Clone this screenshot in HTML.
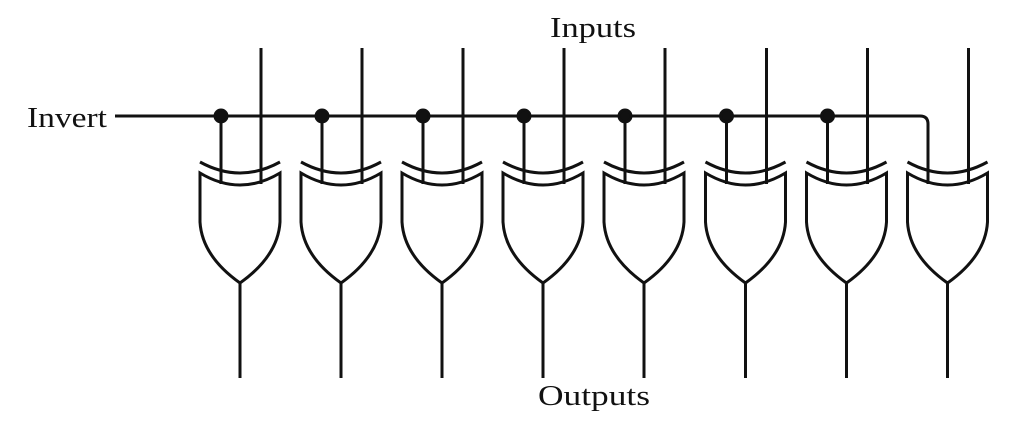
<!DOCTYPE html>
<html><head><meta charset="utf-8"><style>
html,body{margin:0;padding:0;background:#fff;}
svg{display:block;}
text{font-family:"Liberation Serif",serif;font-size:28px;fill:#111;}
</style></head><body>
<svg width="1024" height="435" viewBox="0 0 1024 435" xmlns="http://www.w3.org/2000/svg">
<defs>
<g id="g" fill="none" stroke="#111" stroke-width="3">
  <path d="M-40,162 Q0,184 40,162"/>
  <path d="M-40,173 Q0,197 40,173 L40,222 Q38,256 0,283 Q-38,256 -40,222 Z" stroke-linejoin="miter"/>
  <line x1="0" y1="283" x2="0" y2="378"/>
  <line x1="21" y1="48" x2="21" y2="184"/>
</g>
<g id="t" stroke="#111" stroke-width="3" fill="#111">
  <line x1="-19" y1="116" x2="-19" y2="184"/>
  <circle cx="-19" cy="116" r="6"/>
</g>
</defs>
<text x="27" y="127" textLength="80" lengthAdjust="spacingAndGlyphs">Invert</text>
<text x="550" y="37" textLength="86" lengthAdjust="spacingAndGlyphs">Inputs</text>
<text x="538" y="405" textLength="112" lengthAdjust="spacingAndGlyphs">Outputs</text>
<path d="M115,116 L920,116 Q928,116 928,124 L928,184" fill="none" stroke="#111" stroke-width="3"/>
<use href="#g" x="240"/><use href="#t" x="240"/>
<use href="#g" x="341"/><use href="#t" x="341"/>
<use href="#g" x="442"/><use href="#t" x="442"/>
<use href="#g" x="543"/><use href="#t" x="543"/>
<use href="#g" x="644"/><use href="#t" x="644"/>
<use href="#g" x="745.5"/><use href="#t" x="745.5"/>
<use href="#g" x="846.5"/><use href="#t" x="846.5"/>
<use href="#g" x="947.5"/>
</svg>
</body></html>
